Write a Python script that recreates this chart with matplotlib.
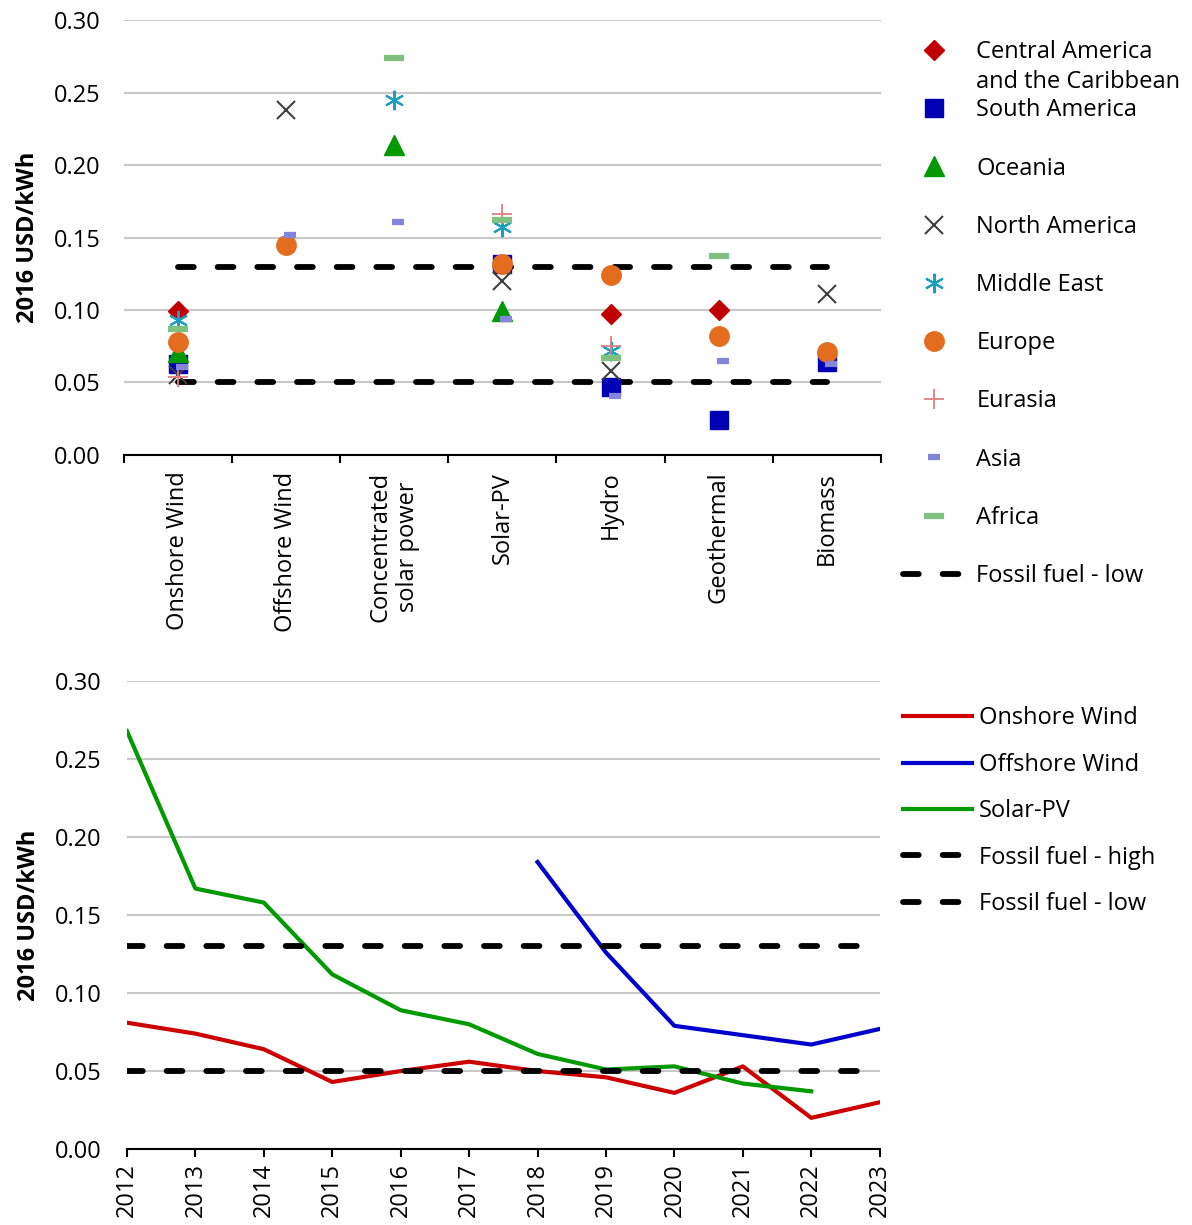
import matplotlib.pyplot as plt
from matplotlib.lines import Line2D
from matplotlib.text import Annotation
from matplotlib.transforms import ScaledTranslation
import numpy as np

plt.rcParams['font.family'] = ['Open Sans', 'DejaVu Sans']
plt.rcParams['font.size'] = 17

# ---- top chart data ----
techs = ["Onshore Wind", "Offshore Wind", "Concentrated\nsolar power", "Solar-PV",
         "Hydro", "Geothermal", "Biomass"]

central_america = {0: 0.099, 4: 0.097, 5: 0.100}
south_america = {0: 0.063, 3: 0.132, 4: 0.047, 5: 0.024, 6: 0.064}
oceania = {0: 0.071, 2: 0.214, 3: 0.099}
north_america = {0: 0.055, 1: 0.238, 3: 0.120, 4: 0.058, 6: 0.111}
middle_east = {0: 0.093, 2: 0.245, 3: 0.157, 4: 0.072}
europe = {0: 0.078, 1: 0.145, 3: 0.132, 4: 0.124, 5: 0.082, 6: 0.071}
eurasia = {0: 0.054, 3: 0.166, 4: 0.075}
asia = {0: 0.061, 1: 0.152, 2: 0.161, 3: 0.094, 4: 0.041, 5: 0.065, 6: 0.063}
africa = {0: 0.087, 2: 0.274, 3: 0.162, 4: 0.067, 5: 0.137}

fossil_high = 0.13
fossil_low = 0.05

# ---- bottom chart data ----
years = list(range(2012, 2024))
onshore = [0.081, 0.074, 0.064, 0.043, 0.050, 0.056, 0.050, 0.046, 0.036, 0.053, 0.020, 0.030]
offshore_years = [2018, 2019, 2020, 2021, 2022, 2023]
offshore = [0.184, 0.126, 0.079, 0.073, 0.067, 0.077]
solar_years = list(range(2012, 2023))
solar = [0.268, 0.167, 0.158, 0.112, 0.089, 0.080, 0.061, 0.051, 0.053, 0.042, 0.037]

fig = plt.figure(figsize=(11.92, 12.25), dpi=100)
ax1 = fig.add_axes([0.104, 0.6286, 0.635, 0.355])
ax2 = fig.add_axes([0.1065, 0.062, 0.6315, 0.382])

dash_kw = dict(color='black', lw=4.2, dashes=(2.7, 4.1), dash_capstyle='round')

# top chart
ax1.plot([0, 6], [fossil_high] * 2, **dash_kw)
ax1.plot([0, 6], [fossil_low] * 2, **dash_kw)

shift = ScaledTranslation(4 / 100, 0, fig.dpi_scale_trans)
series = [
    (central_america, 'Central America', dict(marker='D', color='#C00000', ms=10)),
    (south_america, 'South America', dict(marker='s', color='#0000B4', ms=13)),
    (oceania, 'Oceania', dict(marker='^', color='#009A00', ms=14)),
    (north_america, 'North America', dict(marker='x', color='#404040', ms=13, mew=1.5)),
    (middle_east, 'Middle East', dict(marker=(6, 2, 0), color='#1A9FC4', ms=14, mew=1.5)),
    (europe, 'Europe', dict(marker='o', color='#E46C1E', ms=14)),
    (eurasia, 'Eurasia', dict(marker='+', color='#E07F80', ms=14, mew=1.3)),
    (asia, 'Asia', dict(marker='_', color='#8484DA', ms=9, mew=4.5)),
    (africa, 'Africa', dict(marker='_', color='#80C180', ms=14, mew=4.5)),
]
handles = []
for data, name, st in series:
    xs = list(data.keys())
    ys = list(data.values())
    tr = ax1.transData + shift if name == 'Asia' else ax1.transData
    ax1.plot(xs, ys, ls='none', transform=tr, zorder=3, **st)
    handles.append(Line2D([], [], ls='none', label=name, **st))
handles.append(Line2D([], [], label='Fossil fuel - low', **dash_kw))

ax1.set_xlim(-0.5, 6.5)
ax1.set_ylim(0, 0.30)
ax1.set_yticks(np.arange(0, 0.301, 0.05))
ax1.yaxis.set_major_formatter(plt.FormatStrFormatter('%.2f'))
ax1.set_xticks(range(7))
ax1.set_xticklabels(techs, rotation=90, ha='center', va='top')
ax1.set_xticks(np.arange(-0.5, 6.6, 1), minor=True)
ax1.tick_params(axis='x', which='major', length=0, pad=12)
ax1.tick_params(axis='x', which='minor', length=6, width=1.5, direction='out')
ax1.tick_params(axis='y', length=0, pad=17)
ax1.grid(axis='y', color='#C8C8C8', lw=1.5)
ax1.set_axisbelow(True)
for s in ['left', 'right', 'top']:
    ax1.spines[s].set_visible(False)
ax1.spines['bottom'].set_linewidth(1.5)
ax1.set_ylabel('2016 USD/kWh', fontweight='bold', labelpad=10)

leg1 = fig.legend(handles=handles, loc='upper left', bbox_to_anchor=(0.7497, 0.975),
                  frameon=False, labelspacing=1.45, handlelength=2.6, handletextpad=0.5,
                  borderaxespad=0)
# second line of the first legend label, drawn after the legend
second = Annotation('and the Caribbean', xy=(0, 0), xycoords=leg1.get_texts()[0],
                    xytext=(0, -4), textcoords='offset points', va='top', ha='left',
                    fontsize=17, annotation_clip=False)
second.set_zorder(10)
fig.add_artist(second)

# bottom chart
ax2.plot(years, onshore, color='#CC0000', lw=3.0, label='Onshore Wind')
ax2.plot(offshore_years, offshore, color='#0000CC', lw=3.0, label='Offshore Wind')
ax2.plot(solar_years, solar, color='#009A00', lw=3.0, label='Solar-PV')
ax2.plot(years, [fossil_high] * len(years), **dash_kw, label='Fossil fuel - high')
ax2.plot(years, [fossil_low] * len(years), **dash_kw, label='Fossil fuel - low')

ax2.set_xlim(2012, 2023)
ax2.set_ylim(0, 0.30)
ax2.set_xticks(years)
ax2.set_xticklabels([str(y) for y in years], rotation=90)
ax2.tick_params(axis='x', length=6, width=1.5, pad=4)
ax2.set_yticks(np.arange(0, 0.301, 0.05))
ax2.yaxis.set_major_formatter(plt.FormatStrFormatter('%.2f'))
ax2.tick_params(axis='y', length=0, pad=18)
ax2.grid(axis='y', color='#C8C8C8', lw=1.5)
ax2.set_axisbelow(True)
for s in ['left', 'right', 'top']:
    ax2.spines[s].set_visible(False)
ax2.spines['bottom'].set_linewidth(1.5)
ax2.set_ylabel('2016 USD/kWh', fontweight='bold', labelpad=10)

fig.legend(handles=ax2.get_legend_handles_labels()[0], loc='upper left',
           bbox_to_anchor=(0.7497, 0.431), frameon=False, labelspacing=0.95,
           handlelength=2.9, handletextpad=0.3, borderaxespad=0)

fig.savefig('out.png', dpi=100)
